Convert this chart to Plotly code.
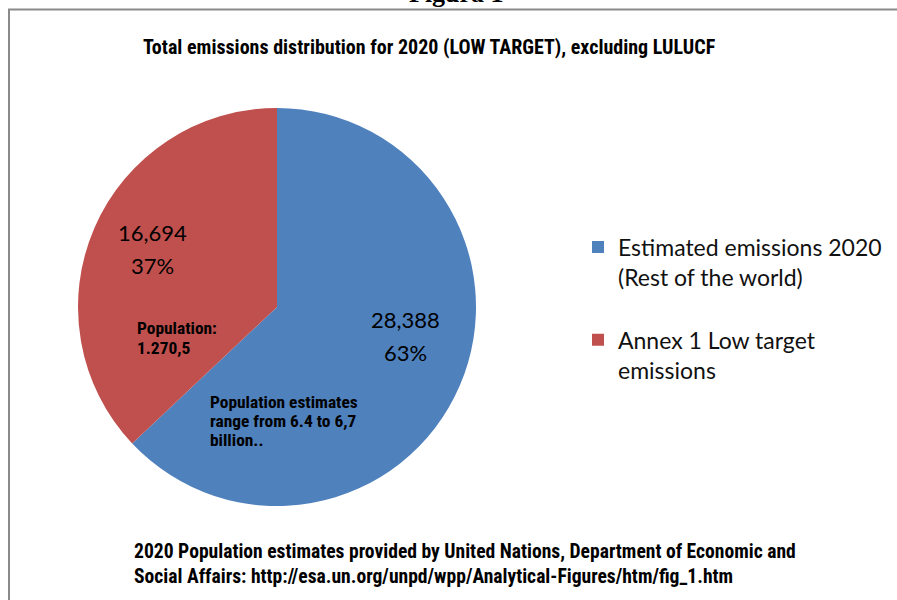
import plotly.graph_objects as go

# ---- data ----
labels = ["Estimated emissions 2020<br>(Rest of the world)<br>", "Annex 1 Low target<br>emissions"]
values = [28388, 16694]
colors = ["#4F81BD", "#C0504D"]
title_text = "Total emissions distribution for 2020 (LOW TARGET), excluding LULUCF"
note_annex = ["Population:", "1.270,5"]
note_rest = ["Population estimates", "range from 6.4 to 6,7", "billion.."]
source_lines = ["2020 Population estimates provided by United Nations, Department of Economic and",
                "Social Affairs: http://esa.un.org/unpd/wpp/Analytical-Figures/htm/fig_1.htm"]

W, H = 897, 600
def px(x):
    return x / W
def py(y):
    return 1 - y / H

NARROW = "Liberation Sans Narrow, Arial Narrow, Roboto Condensed, DejaVu Sans Condensed, Arial, sans-serif"
CAL = "Lato, Carlito, Calibri, Noto Sans, sans-serif"

cx, cy, r = 277, 307, 199

fig = go.Figure(go.Pie(
    labels=labels,
    values=values,
    marker=dict(colors=colors, line=dict(width=0)),
    sort=False,
    direction="clockwise",
    rotation=0,
    textinfo="none",
    hoverinfo="label+value+percent",
    domain=dict(x=[px(cx - r), px(cx + r)], y=[py(cy + r), py(cy - r)]),
))

total = sum(values)
pcts = [round(v / total * 100) for v in values]

ann = []
def text_at(x, y, t, family, size, anchor="left"):
    ann.append(dict(x=px(x), y=py(y), xref="paper", yref="paper", showarrow=False,
                    text=t, font=dict(family=family, size=size, color="#000"),
                    xanchor=anchor, yanchor="middle"))

# value labels (value line, percent line)
label_pos = [(405, 319, 352), (152, 232, 265)]
for (x, y1, y2), v, p in zip(label_pos, values, pcts):
    text_at(x, y1, f"{v:,}", CAL, 22, "center")
    text_at(x, y2, f"{p}%", CAL, 22, "center")

# notes
for i, line in enumerate(note_annex):
    text_at(135, 328 + 19.5 * i, f"<b>{line}</b>", NARROW, 17.4)
for i, line in enumerate(note_rest):
    text_at(208, 402 + 19 * i, f"<b>{line}</b>", NARROW, 17.4)

# title
text_at(141, 47, f"<b>{title_text}</b>", NARROW, 20)
# source
for i, line in enumerate(source_lines):
    text_at(132, 551 + 25 * i, f"<b>{line}</b>", NARROW, 19.6)

# cut-off figure caption
ann.append(dict(x=px(457), y=py(10), xref="paper", yref="paper", showarrow=False,
                text="<b>Figura 1</b>", font=dict(family="Liberation Serif, Times New Roman, serif", size=26, color="#000"),
                xanchor="center", yanchor="bottom"))

fig.update_layout(
    width=W, height=H,
    margin=dict(l=0, r=0, t=0, b=0),
    paper_bgcolor="white",
    plot_bgcolor="white",
    showlegend=True,
    legend=dict(x=px(578), y=py(225.5), xanchor="left", yanchor="top",
                font=dict(family=CAL, size=23, color="#111"),
                valign="top", itemclick=False, bgcolor="rgba(0,0,0,0)"),
    annotations=ann,
    shapes=[dict(type="rect", xref="paper", yref="paper",
                 x0=px(9), x1=px(905), y0=py(610), y1=py(9.5),
                 line=dict(color="#8a8a8a", width=2), fillcolor="rgba(0,0,0,0)")],
)

fig.write_html("out.html", config={"displayModeBar": False},
               post_script="document.body.style.margin='0';")
